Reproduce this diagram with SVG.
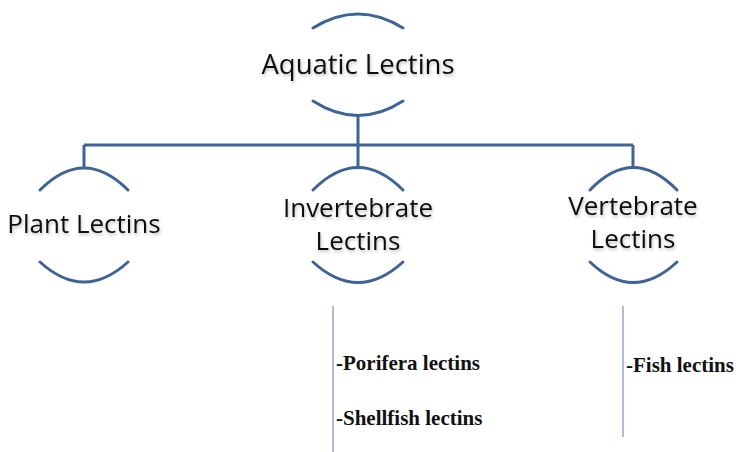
<svg xmlns="http://www.w3.org/2000/svg" width="736" height="452" viewBox="0 0 736 452">
<defs>
<filter id="sh" x="-10%" y="-30%" width="120%" height="160%">
<feDropShadow dx="1" dy="2" stdDeviation="1.5" flood-color="#000" flood-opacity="0.25"/>
</filter>
</defs>
<style>
.arc{fill:none;stroke:#3d6496;stroke-width:3;stroke-linecap:round}
.conn{fill:none;stroke:#3d6496;stroke-width:3}
.thin{fill:none;stroke:#94a9cc;stroke-width:1.5}
.lbl{font-family:"Open Sans","Noto Sans",sans-serif;font-size:26px;fill:#111;text-anchor:middle;filter:url(#sh)}
.big{font-size:27.5px}
.sub{font-family:"Liberation Serif","Times New Roman",serif;font-weight:bold;font-size:21px;fill:#111}
</style>
<rect width="736" height="452" fill="#fff"/>
<g id="connectors">
<path class="conn" d="M358 115 V145 M84 145 H633 M84 145 V168 M358 145 V167 M633 145 V167"/>
<path class="thin" d="M333 306 V452 M623 306 V437"/>
</g>
<g id="aquatic">
<path class="arc" d="M313 28 Q358 0 403 28"/>
<path class="arc" d="M313 101 Q358 130 403 101"/>
<text class="lbl big" x="358" y="74">Aquatic Lectins</text>
</g>
<g id="plant">
<path class="arc" d="M40 190 Q84 146 128 190"/>
<path class="arc" d="M40 262 Q84 302 128 262"/>
<text class="lbl" x="84" y="233">Plant Lectins</text>
</g>
<g id="invertebrate">
<path class="arc" d="M313 190 Q358 145 403 190"/>
<path class="arc" d="M313 262 Q358 303 403 262"/>
<text class="lbl" x="358" y="217">Invertebrate</text>
<text class="lbl" x="358" y="250">Lectins</text>
</g>
<g id="vertebrate">
<path class="arc" d="M590 190 Q633 145 677 190"/>
<path class="arc" d="M590 262 Q633 303 677 262"/>
<text class="lbl" x="633" y="215">Vertebrate</text>
<text class="lbl" x="633" y="248">Lectins</text>
</g>
<g id="invert-list">
<text class="sub" x="336" y="370">-Porifera lectins</text>
<text class="sub" x="336" y="425">-Shellfish lectins</text>
</g>
<g id="vert-list">
<text class="sub" x="626" y="372">-Fish lectins</text>
</g>
</svg>
